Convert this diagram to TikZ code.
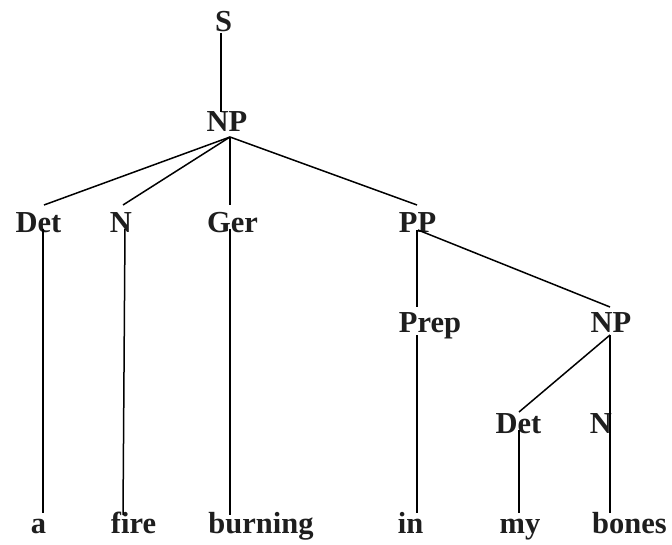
\documentclass[tikz,border=0pt]{standalone}
\usepackage{fontspec}
\setmainfont{Liberation Serif}
\usepackage{xcolor}
\usepackage{tikz}
\definecolor{ink}{HTML}{1E1E1E}

\begin{document}
\begin{tikzpicture}[x=1pt, y=-1pt,
      lbl/.style={anchor=base, inner sep=0pt, text=ink,
                  font=\fontsize{30.5}{36}\selectfont\bfseries},
      branch/.style={line width=1.5pt, black}
    ]
      \useasboundingbox (0,0) rectangle (672,545);
      % labels
      \node[lbl] (S)     at (223.5,32) {S};
      \node[lbl] (np)    at (227,132)  {NP};
      \node[lbl] (det)   at (38.5,233) {Det};
      \node[lbl] (n)     at (121,233)  {N};
      \node[lbl] (ger)   at (232.5,233) {Ger};
      \node[lbl] (pp)    at (417.5,233) {PP};
      \node[lbl] (prep)  at (430,333)  {Prep};
      \node[lbl] (np2)   at (611,333)  {NP};
      \node[lbl] (det2)  at (518.5,433) {Det};
      \node[lbl] (n2)    at (601,433)  {N};
      \node[lbl] (a)     at (38.5,533) {a};
      \node[lbl] (fire)  at (133.5,533) {fire};
      \node[lbl] (burn)  at (261,533)  {burning};
      \node[lbl] (in)    at (410.5,533) {in};
      \node[lbl] (my)    at (520,533)  {my};
      \node[lbl] (bones) at (629.5,533) {bones};
      % branches
      \draw[branch] ([shift={(-2.5pt,-1pt)}]S.base) -- ([shift={(-6pt,20pt)}]np.base);
      \draw[branch] ([shift={(3pt,-5pt)}]np.base) -- ([shift={(5.5pt,28pt)}]det.base);
      \draw[branch] ([shift={(3pt,-5pt)}]np.base) -- ([shift={(2pt,28pt)}]n.base);
      \draw[branch] ([shift={(3pt,-5pt)}]np.base) -- ([shift={(-2.5pt,28pt)}]ger.base);
      \draw[branch] ([shift={(3pt,-5pt)}]np.base) -- ([shift={(-0.5pt,28pt)}]pp.base);
      \draw[branch] ([shift={(4.5pt,4pt)}]det.base) -- ([shift={(4.5pt,20pt)}]a.base);
      \draw[branch] ([shift={(4pt,4pt)}]n.base) -- ([shift={(-10.5pt,18pt)}]fire.base);
      \draw[branch] ([shift={(-2.5pt,4pt)}]ger.base) -- ([shift={(-31pt,18pt)}]burn.base);
      \draw[branch] ([shift={(-0.5pt,3pt)}]pp.base) -- ([shift={(-13pt,26pt)}]prep.base);
      \draw[branch] ([shift={(0.5pt,3pt)}]pp.base) -- ([shift={(-1pt,26pt)}]np2.base);
      \draw[branch] ([shift={(-13pt,-2pt)}]prep.base) -- ([shift={(6.5pt,20pt)}]in.base);
      \draw[branch] ([shift={(-1pt,-2pt)}]np2.base) -- ([shift={(0.5pt,21pt)}]det2.base);
      \draw[branch] ([shift={(-1pt,-2pt)}]np2.base) -- ([shift={(9pt,13pt)}]n2.base);
      \draw[branch] ([shift={(0.5pt,3pt)}]det2.base) -- ([shift={(-1pt,20pt)}]my.base);
      \draw[branch] ([shift={(9pt,13pt)}]n2.base) -- ([shift={(-19.5pt,20pt)}]bones.base);
\end{tikzpicture}
\end{document}
